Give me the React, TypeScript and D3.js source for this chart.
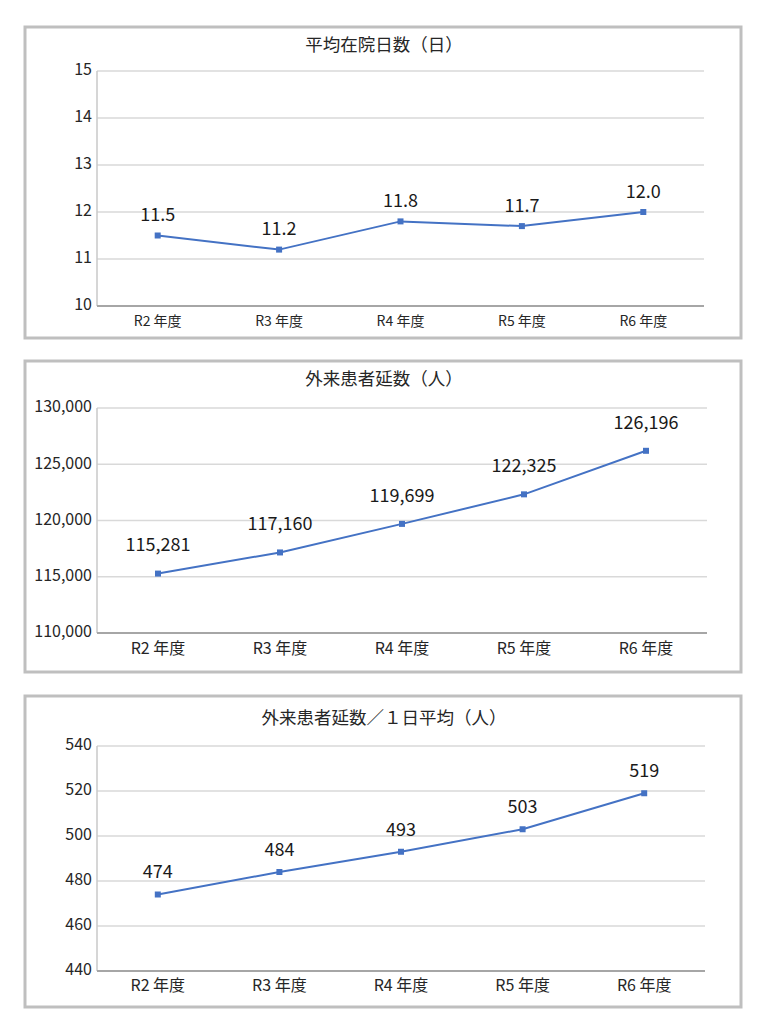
import React from "react";
import * as d3 from "d3";

// Shared categories (fiscal years)
const categories = ["R2 年度", "R3 年度", "R4 年度", "R5 年度", "R6 年度"];

// Chart 1: average length of stay (days)
const stayTitle = "平均在院日数（日）";
const stayValues = [11.5, 11.2, 11.8, 11.7, 12.0];
const stayTicks = [10, 11, 12, 13, 14, 15];

// Chart 2: total outpatients
const outTitle = "外来患者延数（人）";
const outValues = [115281, 117160, 119699, 122325, 126196];
const outTicks = [110000, 115000, 120000, 125000, 130000];

// Chart 3: outpatients per day
const dailyTitle = "外来患者延数／１日平均（人）";
const dailyValues = [474, 484, 493, 503, 519];
const dailyTicks = [440, 460, 480, 500, 520, 540];

const FONT = "'Noto Sans CJK JP', 'Noto Sans', sans-serif";
const BLUE = "#4472c4";

interface PanelProps {
  top: number;
  title: string;
  values: number[];
  ticks: number[];
  tickFormat: (v: number) => string;
  labelFormat: (v: number) => string;
  plot: { left: number; right: number; top: number; bottom: number };
  titleY: number;
  xLabelY: number;
  xFont: number;
  labelOffset: number;
}

const LinePanel: React.FC<PanelProps> = ({
  top,
  title,
  values,
  ticks,
  tickFormat,
  labelFormat,
  plot,
  titleY,
  xLabelY,
  xFont,
  labelOffset,
}) => {
  const x = d3
    .scaleBand<string>()
    .domain(categories)
    .range([plot.left, plot.right]);
  const y = d3
    .scaleLinear()
    .domain([ticks[0], ticks[ticks.length - 1]])
    .range([plot.bottom, plot.top]);

  const cx = (c: string) => (x(c) ?? 0) + x.bandwidth() / 2;
  const line = d3
    .line<number>()
    .x((_, i) => cx(categories[i]))
    .y((d) => y(d));

  return (
    <g>
      {/* panel frame */}
      <rect
        x={25}
        y={top + 1}
        width={716}
        height={311}
        fill="white"
        stroke="#bfbfbf"
        strokeWidth={3}
      />
      <text
        x={384}
        y={titleY}
        textAnchor="middle"
        dominantBaseline="middle"
        fontSize={17.5}
        fontFamily={FONT}
        fill="#262626"
      >
        {title}
      </text>

      {/* gridlines */}
      {ticks.slice(1).map((t) => (
        <line
          key={t}
          x1={plot.left}
          x2={plot.right}
          y1={y(t)}
          y2={y(t)}
          stroke="#d9d9d9"
          strokeWidth={1.3}
        />
      ))}
      <line
        x1={plot.left}
        x2={plot.left}
        y1={plot.top}
        y2={plot.bottom}
        stroke="#c8c8c8"
        strokeWidth={1.5}
      />
      <line
        x1={plot.left}
        x2={plot.right}
        y1={plot.bottom}
        y2={plot.bottom}
        stroke="#a6a6a6"
        strokeWidth={2}
      />

      {/* y tick labels */}
      {ticks.map((t) => (
        <text
          key={t}
          x={plot.left - 5}
          y={y(t)}
          textAnchor="end"
          dominantBaseline="middle"
          fontSize={16}
          fontFamily={FONT}
          fill="#262626"
        >
          {tickFormat(t)}
        </text>
      ))}

      {/* x labels */}
      {categories.map((c) => (
        <text
          key={c}
          x={cx(c)}
          y={xLabelY}
          textAnchor="middle"
          dominantBaseline="middle"
          fontSize={xFont}
          fontFamily={FONT}
          fill="#262626"
        >
          {c}
        </text>
      ))}

      {/* series */}
      <path d={line(values) ?? ""} fill="none" stroke={BLUE} strokeWidth={2} />
      {values.map((v, i) => (
        <rect
          key={i}
          x={cx(categories[i]) - 3}
          y={y(v) - 3}
          width={6}
          height={6}
          fill={BLUE}
        />
      ))}
      {values.map((v, i) => (
        <text
          key={"l" + i}
          x={cx(categories[i])}
          y={y(v) - labelOffset}
          textAnchor="middle"
          dominantBaseline="middle"
          fontSize={18}
          fontFamily={FONT}
          fill="#1a1a1a"
        >
          {labelFormat(v)}
        </text>
      ))}
    </g>
  );
};

const comma = d3.format(",");

export default function App() {
  return (
    <svg
      width={766}
      height={1034}
      style={{ position: "absolute", left: 0, top: 0, display: "block" }}
    >
      <rect width={766} height={1034} fill="white" />
      <LinePanel
        top={26}
        title={stayTitle}
        values={stayValues}
        ticks={stayTicks}
        tickFormat={(v) => String(v)}
        labelFormat={(v) => v.toFixed(1)}
        plot={{ left: 97, right: 704, top: 71, bottom: 306 }}
        titleY={46}
        xLabelY={322}
        xFont={14}
        labelOffset={19}
      />
      <LinePanel
        top={360}
        title={outTitle}
        values={outValues}
        ticks={outTicks}
        tickFormat={comma}
        labelFormat={comma}
        plot={{ left: 97, right: 707, top: 408, bottom: 633 }}
        titleY={380}
        xLabelY={650}
        xFont={16}
        labelOffset={27}
      />
      <LinePanel
        top={695}
        title={dailyTitle}
        values={dailyValues}
        ticks={dailyTicks}
        tickFormat={(v) => String(v)}
        labelFormat={(v) => String(v)}
        plot={{ left: 97, right: 705, top: 746, bottom: 971 }}
        titleY={719}
        xLabelY={987}
        xFont={16}
        labelOffset={21}
      />
    </svg>
  );
}
